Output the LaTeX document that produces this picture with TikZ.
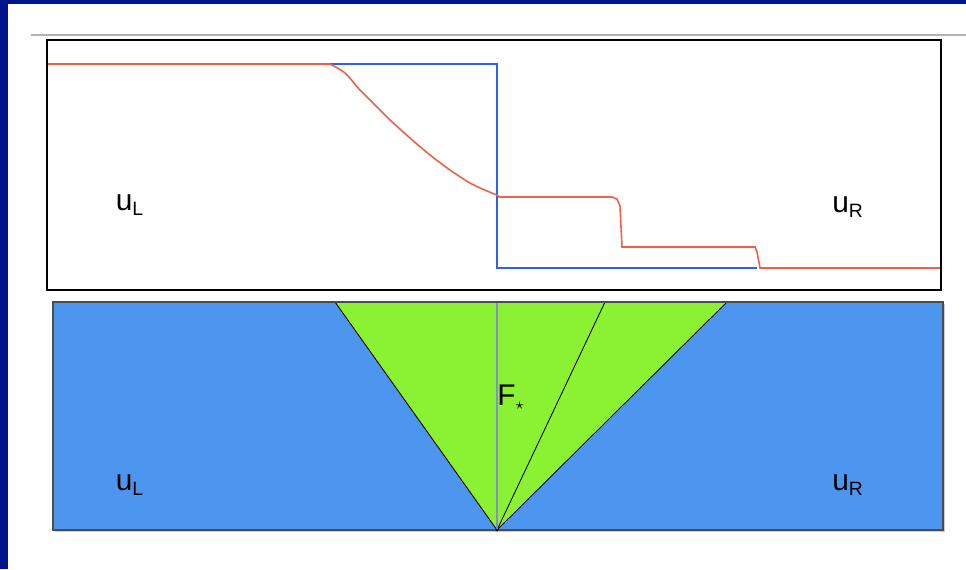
\documentclass[tikz,border=0pt]{standalone}
\usepackage{fontspec}
\setmainfont{Liberation Sans}
\usetikzlibrary{positioning}
\definecolor{FrameBlue}{RGB}{0,20,140}
\definecolor{StateRed}{RGB}{240,96,72}
\definecolor{StateBlue}{RGB}{48,96,240}
\definecolor{PanelBlue}{RGB}{77,150,240}
\definecolor{FanGreen}{RGB}{138,242,50}
\definecolor{MidLine}{RGB}{128,144,200}
\tikzset{
LabelStyle/.style  ={inner sep=0pt, font=\fontsize{17}{17}\selectfont},
RedLine/.style     ={StateRed, line width=0.9pt},
BlueLine/.style    ={StateBlue, line width=0.9pt},
WaveLine/.style    ={black, line width=0.5pt},
}

\begin{document}
\begin{tikzpicture}[x=0.02cm, y=-0.02cm]
\useasboundingbox (0,0) rectangle (966,569);
\fill[white] (0,0) rectangle (966,569);
\fill[FrameBlue] (0,0) rectangle (966,4);
\fill[FrameBlue] (0,0) rectangle (8,569);
\draw[gray!60, line width=0.8pt] (31,35) -- (966,35);

% top panel
\draw[black, line width=1.6pt] (47,40) rectangle (941,290);
\draw[BlueLine] (330,64) -- (497,64) -- (497,268) -- (757,268);
\draw[RedLine] (48,64) -- (330,64)
  plot[smooth, tension=0.5] coordinates {(330,64) (345,73) (360,90) (375,105)
        (390,120) (410,138) (430,155) (450,170) (470,183) (487,191) (497,195)}
  -- (499,197) -- (612,197) -- (617,199) -- (620,206) -- (622,247)
  -- (755,247) -- (757,252) -- (760,268) -- (940,268);
\node[LabelStyle] (uLtop) at (130,205) {u\textsubscript{\fontsize{11}{11}\selectfont L}};
\node[LabelStyle] (uRtop) at (848,207) {u\textsubscript{\fontsize{11}{11}\selectfont R}};

% bottom panel
\fill[gray!40] (55,304) rectangle (945,532);
\draw[fill=PanelBlue, draw=black!70, line width=0.6pt] (53,302) rectangle (943,530);
\coordinate (V)  at (497,530);
\coordinate (FL) at (335,302);
\coordinate (FM) at (605,302);
\coordinate (FR) at (727,302);
\coordinate (FT) at (497,302);
\fill[FanGreen] (V) -- (FL) -- (FR) -- cycle;
\draw[WaveLine] (FL) -- (V) -- (FR);
\draw[WaveLine] (V) -- (FM);
\draw[MidLine, line width=0.7pt] (V) -- (FT);
\draw[black!70, line width=0.6pt] (53,302) -- (943,302);
\fill[black] (V) circle (1.5);
\node[LabelStyle] (Fstar) at (511,397) {F\textsubscript{\fontsize{9}{9}\selectfont $\star$}};
\node[LabelStyle] (uLbot) at (130,485) {u\textsubscript{\fontsize{11}{11}\selectfont L}};
\node[LabelStyle] (uRbot) at (848,485) {u\textsubscript{\fontsize{11}{11}\selectfont R}};
\end{tikzpicture}
\end{document}
